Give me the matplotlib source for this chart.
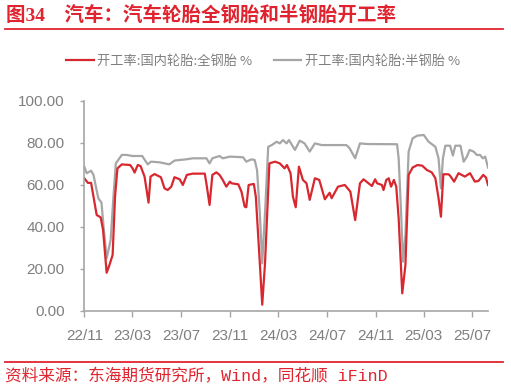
import matplotlib.pyplot as plt
import matplotlib.dates as mdates
import pandas as pd

plt.rcParams['font.family'] = ['Noto Sans CJK SC', 'DejaVu Sans']

# 开工率:国内轮胎:全钢胎 %
steel_dates = [
    '2022-11-01', '2022-11-10', '2022-11-18', '2022-12-02', '2022-12-12', '2022-12-18',
    '2022-12-27', '2023-01-03', '2023-01-11', '2023-01-17', '2023-01-23', '2023-02-03',
    '2023-02-24', '2023-03-02', '2023-03-07', '2023-03-15', '2023-03-22', '2023-04-01',
    '2023-04-11', '2023-04-16', '2023-04-26', '2023-05-12', '2023-05-21', '2023-05-29',
    '2023-06-07', '2023-06-15', '2023-06-28', '2023-07-06', '2023-07-16', '2023-07-31',
    '2023-08-30', '2023-09-03', '2023-09-11', '2023-09-18', '2023-09-28', '2023-10-06',
    '2023-10-14', '2023-10-23', '2023-11-01', '2023-11-05', '2023-11-22', '2023-11-30',
    '2023-12-08', '2023-12-12', '2023-12-18', '2023-12-31', '2024-01-05', '2024-01-15',
    '2024-01-21', '2024-01-28', '2024-02-08', '2024-02-22', '2024-03-05', '2024-03-17',
    '2024-03-23', '2024-04-01', '2024-04-07', '2024-04-14', '2024-04-22', '2024-05-02',
    '2024-05-11', '2024-05-19', '2024-06-01', '2024-06-12', '2024-06-26', '2024-07-08',
    '2024-07-13', '2024-07-29', '2024-08-15', '2024-08-29', '2024-09-10', '2024-09-22',
    '2024-10-01', '2024-10-22', '2024-10-30', '2024-11-04', '2024-11-16', '2024-11-20',
    '2024-11-27', '2024-12-03', '2024-12-09', '2024-12-16', '2024-12-22', '2024-12-28',
    '2025-01-06', '2025-01-14', '2025-01-22', '2025-02-01', '2025-02-13', '2025-02-25',
    '2025-03-09', '2025-03-21', '2025-03-30', '2025-04-07', '2025-04-13', '2025-04-19',
    '2025-05-02', '2025-05-06', '2025-05-16', '2025-05-27', '2025-06-04', '2025-06-12',
    '2025-06-25', '2025-07-07', '2025-07-16', '2025-07-28', '2025-08-04', '2025-08-09',
]
steel_vals = [
    63.2, 61.0, 61.0, 45.7, 44.6, 38.6,
    18.2, 21.9, 26.7, 54.4, 67.9, 69.8,
    69.5, 67.9, 65.9, 69.5, 69.0, 64.0,
    51.6, 64.0, 65.2, 63.7, 58.4, 57.6,
    59.2, 63.7, 62.7, 60.0, 64.8, 65.4,
    65.4, 60.8, 50.5, 64.8, 66.0, 64.8,
    62.4, 59.2, 61.6, 60.8, 60.3, 56.8,
    49.7, 49.4, 60.0, 60.5, 54.4, 22.7,
    3.0, 22.7, 70.3, 71.1, 70.3, 67.9,
    69.5, 65.6, 54.4, 49.4, 68.7, 62.4,
    60.8, 52.9, 63.2, 62.4, 53.2, 56.3,
    53.7, 59.2, 60.0, 56.8, 43.3, 60.8,
    62.7, 59.5, 62.7, 60.8, 60.0, 57.6,
    62.4, 63.2, 59.2, 62.4, 59.2, 44.1,
    8.4, 21.9, 64.8, 68.3, 69.5, 69.2,
    67.1, 66.0, 63.2, 53.7, 44.9, 65.1,
    65.1, 64.4, 61.6, 65.6, 64.8, 64.0,
    65.6, 61.6, 61.9, 64.8, 63.5, 60.0,
]

# 开工率:国内轮胎:半钢胎 %
semi_dates = [
    '2022-11-01', '2022-11-07', '2022-11-18', '2022-11-24', '2022-12-06', '2022-12-14',
    '2022-12-20', '2022-12-27', '2023-01-06', '2023-01-13', '2023-01-19', '2023-02-03',
    '2023-02-15', '2023-03-02', '2023-03-26', '2023-04-09', '2023-04-17', '2023-05-08',
    '2023-05-21', '2023-06-02', '2023-06-15', '2023-06-28', '2023-07-14', '2023-07-31',
    '2023-09-03', '2023-09-11', '2023-09-18', '2023-10-06', '2023-10-14', '2023-11-01',
    '2023-12-04', '2023-12-12', '2023-12-25', '2024-01-02', '2024-01-08', '2024-01-15',
    '2024-01-21', '2024-01-28', '2024-02-05', '2024-02-14', '2024-02-26', '2024-03-05',
    '2024-03-13', '2024-03-22', '2024-03-28', '2024-04-12', '2024-04-24', '2024-05-06',
    '2024-05-19', '2024-06-01', '2024-06-18', '2024-08-19', '2024-08-27', '2024-09-10',
    '2024-09-22', '2024-10-10', '2024-12-24', '2024-12-28', '2025-01-03', '2025-01-08',
    '2025-01-14', '2025-01-22', '2025-02-01', '2025-02-13', '2025-03-01', '2025-03-13',
    '2025-03-30', '2025-04-07', '2025-04-13', '2025-04-18', '2025-04-24', '2025-05-06',
    '2025-05-13', '2025-05-19', '2025-06-01', '2025-06-09', '2025-06-17', '2025-06-24',
    '2025-07-04', '2025-07-12', '2025-07-20', '2025-07-27', '2025-08-02', '2025-08-09',
]
semi_vals = [
    68.7, 65.6, 66.8, 64.8, 53.7, 51.6,
    38.6, 25.1, 33.8, 54.4, 70.3, 74.3,
    74.3, 73.8, 73.8, 69.8, 71.1, 70.8,
    70.3, 69.8, 71.6, 71.9, 72.2, 72.7,
    72.7, 70.3, 72.7, 73.8, 72.7, 73.5,
    73.2, 71.1, 72.2, 71.9, 67.1, 46.5,
    22.7, 46.5, 78.2, 79.0, 80.6, 79.8,
    81.4, 79.8, 81.4, 76.7, 81.1, 79.8,
    75.9, 79.8, 79.0, 79.0, 77.5, 72.7,
    79.8, 79.5, 79.4, 72.7, 47.3, 23.5,
    36.2, 75.9, 82.2, 83.5, 83.8, 80.6,
    78.2, 72.7, 58.4, 72.7, 78.7, 78.7,
    74.0, 78.7, 78.7, 71.1, 73.5, 76.7,
    75.9, 74.3, 74.3, 72.7, 73.5, 68.3,
]

tick_dates = ['2022-11-01', '2023-03-01', '2023-07-01', '2023-11-01', '2024-03-01',
              '2024-07-01', '2024-11-01', '2025-03-01', '2025-07-01']

red = '#d7282f'
grey = '#a6a6a6'
text_grey = '#7f7f7f'
title_red = '#e0242f'
num_font = ['Liberation Sans Narrow', 'Liberation Sans', 'DejaVu Sans']

fig = plt.figure(figsize=(5.11, 3.90), dpi=100)
ax = fig.add_axes([0.165, 0.2026, 0.79, 0.5385])

ax.plot(pd.to_datetime(semi_dates), semi_vals, color=grey, lw=1.6,
        label='开工率:国内轮胎:半钢胎 %')
ax.plot(pd.to_datetime(steel_dates), steel_vals, color=red, lw=1.6,
        label='开工率:国内轮胎:全钢胎 %')

ax.set_ylim(0, 100)
ax.set_xlim(pd.Timestamp('2022-11-01'), pd.Timestamp('2025-08-09'))
ax.set_yticks([0, 20, 40, 60, 80, 100])
ax.set_yticklabels(['%.2f' % v for v in [0, 20, 40, 60, 80, 100]])
ax.set_xticks(pd.to_datetime(tick_dates))
ax.xaxis.set_major_formatter(mdates.DateFormatter('%y/%m'))

for s in ['top', 'right']:
    ax.spines[s].set_visible(False)
for s in ['left', 'bottom']:
    ax.spines[s].set_color(grey)
    ax.spines[s].set_linewidth(1.2)
ax.tick_params(axis='y', length=3, width=1, color=grey, pad=11, labelcolor=text_grey)
ax.tick_params(axis='x', length=4, width=1, color=grey, pad=9, labelcolor=text_grey)
for lab in ax.get_xticklabels() + ax.get_yticklabels():
    lab.set_family(num_font)
    lab.set_fontsize(11)

# legend (red first)
h, l = ax.get_legend_handles_labels()
fig.legend(h[::-1], l[::-1], loc='center', bbox_to_anchor=(0.515, 0.843), ncol=2,
           frameon=False, fontsize=9.5, labelcolor=text_grey, handlelength=2.1,
           handletextpad=0.25, columnspacing=1.6)

# title and source
fig.text(0.012, 0.962, '图34    汽车：汽车轮胎全钢胎和半钢胎开工率', color=title_red,
         fontsize=14, fontweight='bold', va='center', ha='left',
         family=['Liberation Serif', 'Noto Sans CJK SC'])
fig.add_artist(plt.Line2D([0.01, 0.985], [0.925, 0.925], color=title_red, lw=1.3))
fig.add_artist(plt.Line2D([0.01, 0.985], [0.073, 0.073], color=title_red, lw=1.3))
fig.text(0.01, 0.036, '资料来源：东海期货研究所，Wind，同花顺 iFinD', color=title_red,
         fontsize=12, va='center', ha='left',
         family=['Liberation Mono', 'Noto Sans CJK SC'])

fig.savefig('out.png', dpi=100)
